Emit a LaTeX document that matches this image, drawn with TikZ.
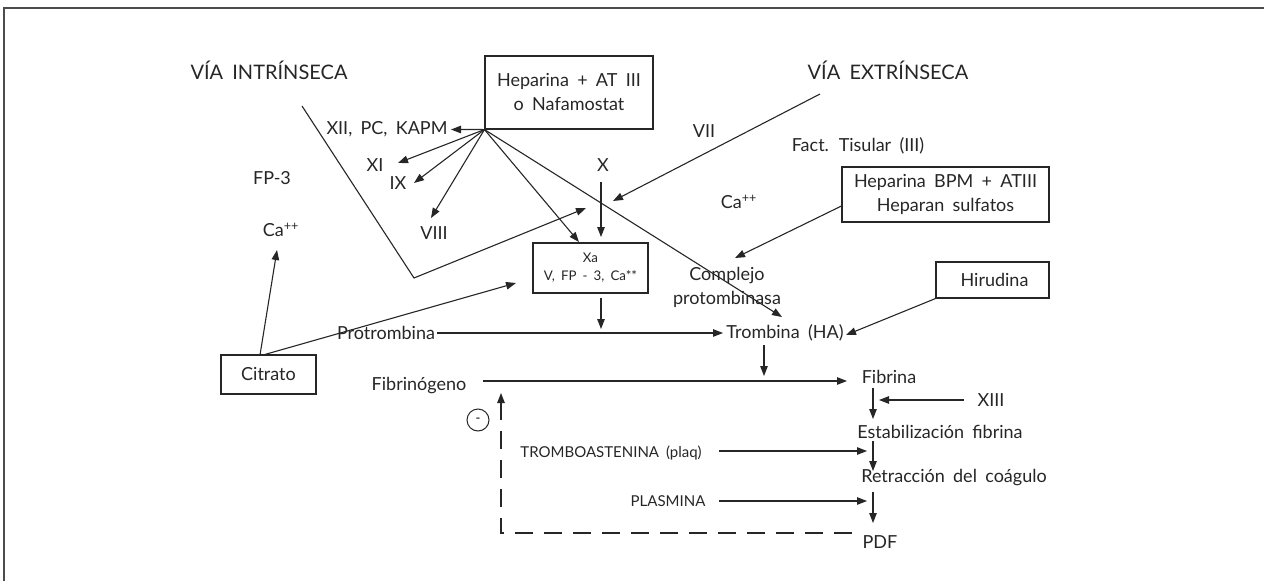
\documentclass[tikz,border=0pt]{standalone}
\usepackage{fontspec}
\setmainfont{Lato}[WordSpace=1.8]
\usetikzlibrary{arrows.meta}
\begin{document}
\begin{tikzpicture}[x=1pt,y=-1pt,
  ink/.style={draw=black!85, line width=1.1pt},
  arr/.style={ink, -{Triangle[length=10pt,width=7.5pt]}},
  lbl/.style={inner sep=0pt, font=\fontsize{18}{24}\selectfont, text=black!85},
  title/.style={inner sep=0pt, font=\fontsize{20}{24}\selectfont, text=black!85},
  small/.style={inner sep=0pt, font=\fontsize{15}{18}\selectfont, text=black!85},
  boxed/.style={ink, inner sep=0pt, align=center, text=black!85, font=\fontsize{18}{24}\selectfont},
  dashline/.style={ink, dash pattern=on 18pt off 11pt}
]
\useasboundingbox (0,0) rectangle (1264,581);
% frame: top and left rules
\draw[draw=black!70, line width=1.4pt] (1264,8) -- (4,8) -- (4,581);

% headings
\node[title] (vi) at (269,70) {VÍA INTRÍNSECA};
\node[title] (ve) at (888,70) {VÍA EXTRÍNSECA};

% inhibitor boxes
\node[boxed, minimum width=168pt, minimum height=73pt] (hep) at (569,92.5) {Heparina + AT III\\o Nafamostat};
\node[boxed, minimum width=207pt, minimum height=55pt] (bpm) at (945.5,194.5) {Heparina BPM + ATIII\\Heparan sulfatos};
\node[boxed, minimum width=113pt, minimum height=36pt] (hir) at (992.5,280) {\hspace*{4pt}Hirudina};
\node[boxed, minimum width=95pt, minimum height=39pt] (cit) at (268.5,374.5) {Citrato};
\node[boxed, minimum width=115pt, minimum height=50pt, font=\fontsize{13.3}{18}\selectfont] (xa) at (590.5,268) {Xa\\V, FP - 3, Ca**};

% factors
\node[lbl] (xii) at (387,129) {XII, PC, KAPM};
\node[lbl] (xi) at (375,165) {XI};
\node[lbl] (ix) at (398,183) {IX};
\node[lbl] (viii) at (434,233) {VIII};
\node[lbl] (fp3) at (272,178) {FP-3};
\node[lbl] (caL) at (281,230) {Ca\textsuperscript{++}};
\node[lbl] (x) at (603,165) {X};
\node[lbl] (vii) at (704,131) {VII};
\node[lbl] (ft) at (858,146) {Fact. Tisular (III)};
\node[lbl] (caR) at (739,202) {Ca\textsuperscript{++}};
\node[lbl, align=center] (cpx) at (727,287) {Complejo\\protombinasa};
\node[lbl] (prot) at (386,333) {Protrombina};
\node[lbl] (trom) at (785,333) {Trombina (HA)};
\node[lbl] (fbg) at (419,386) {Fibrinógeno};
\node[lbl] (fib) at (889,377) {Fibrina};
\node[lbl] (xiii) at (991,400) {XIII};
\node[lbl] (est) at (940,432) {Estabilización fibrina};
\node[lbl] (ret) at (954,478) {Retracción del coágulo};
\node[lbl] (pdf) at (880,542) {PDF};
\node[small] (tromb) at (611,453) {TROMBOASTENINA (plaq)};
\node[small] (plas) at (668,501) {PLASMINA};
\node[draw=black!85, line width=1pt, circle, minimum size=22pt, inner sep=0pt, font=\fontsize{13}{13}\selectfont] (neg) at (478,420) {-};

% free ends of the pathway lines
\coordinate (intS) at (302,106);
\coordinate (intV) at (414,278);
\coordinate (intE) at (586,208);
\coordinate (extS) at (820,94);
\coordinate (extE) at (613,201);

% inhibition fan from the heparin box
\coordinate (apex) at (hep.south west);
\draw[arr] (apex) -- (451,129.5);
\draw[arr] (apex) -- (398,163);
\draw[arr] (apex) -- (414,183);
\draw[arr] (apex) -- (431,218);
\draw[arr] (apex) -- (579,242);
\draw[arr] (apex) -- (782,317);

% intrinsic and extrinsic pathways
\draw[arr] (intS) -- (intV) -- (intE);
\draw[arr] (extS) -- (extE);
\draw[arr] (601,182) -- (601,237);

% citrate
\draw[arr] (260,355) -- (277,250);
\draw[arr] (263,355) -- (516,283);

% prothrombinase and thrombin
\draw[arr] (bpm.west |- 0,206) -- (735,258);
\draw[arr] (601,298) -- (601,329);
\draw[arr] (437,333) -- (723,333);
\draw[arr] (hir.south west) -- (846,335);
\draw[arr] (764,345) -- (764,376);
\draw[arr] (483,381) -- (847,381);

% fibrin cascade
\draw[arr] (873,388) -- (873,419);
\draw[arr] (964,400) -- (879,400);
\draw[arr] (873,441) -- (873,471);
\draw[arr] (719,451) -- (867,451);
\draw[arr] (873,492) -- (873,523);
\draw[arr] (719,501) -- (867,501);

% feedback loop
\draw[dashline] (852,533) -- (501,533) -- (501,402);
\draw[arr] (501,404) -- (501,393);
\end{tikzpicture}
\end{document}
